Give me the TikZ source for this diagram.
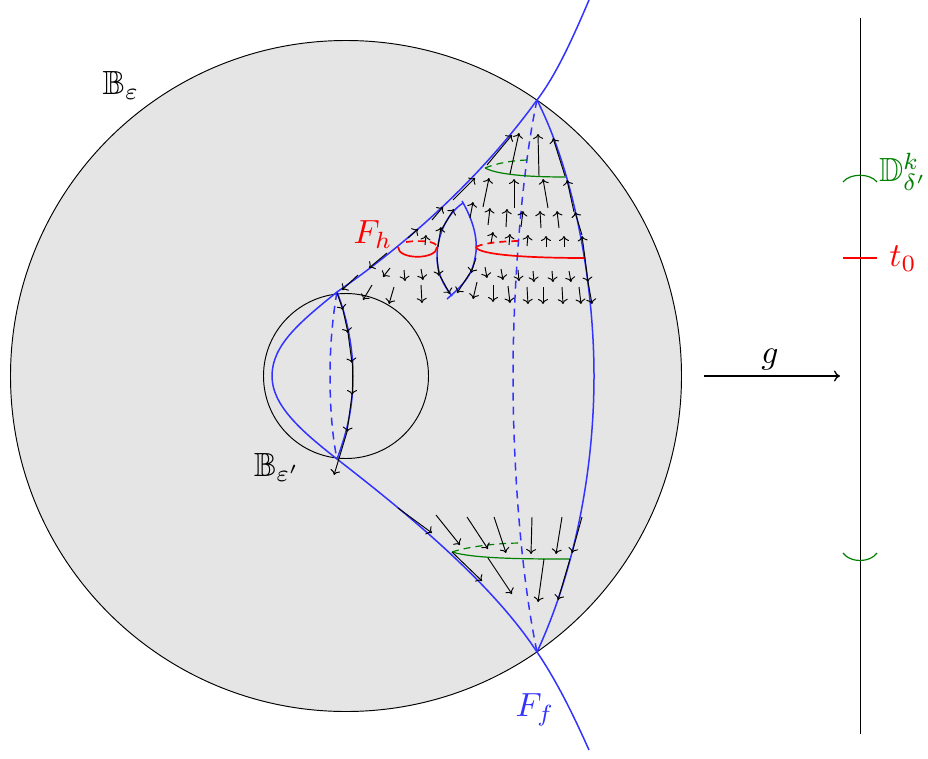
\documentclass[tikz,border=0pt]{standalone}
\usepackage{amsmath,amssymb}
\usetikzlibrary{arrows.meta}
\definecolor{ffblue}{rgb}{0.2,0.2,1}
\definecolor{dkgreen}{rgb}{0,0.5,0}
\tikzset{
  vec/.style={black,line width=0.95pt,-{Computer Modern Rightarrow[length=5pt,width=10pt]}},
  ffline/.style={ffblue,line width=1.5pt},
  ffdash/.style={ffline,dash pattern=on 8pt off 6pt},
  grn/.style={dkgreen,line width=1.2pt},
  grndash/.style={grn,dash pattern=on 7pt off 5pt},
  rd/.style={red,line width=1.7pt},
  rddash/.style={rd,dash pattern=on 7pt off 5pt},
  lab/.style={scale=3.35,inner sep=0pt},
  thin black/.style={black,line width=0.95pt}
}
\begin{document}
\begin{tikzpicture}[x=1pt,y=-1pt]
\useasboundingbox (0,0) rectangle (928,758);
% balls
\coordinate (c) at (346,376);
\fill[black!10] (c) circle[radius=335.5];
\draw[thin black] (c) circle[radius=335.5];
\draw[thin black] (c) circle[radius=82.5];
% fibres
\coordinate (tu) at (537,100);
\coordinate (td) at (537,652);
\coordinate (su) at (337,292);
\coordinate (sd) at (337,459);
\draw[ffline] (589,0) .. controls (572,40) and (556,75) .. (tu) .. controls (485,172) and (415,238) .. (su) .. controls (300,322) and (272,345) .. (272,376) .. controls (272,405) and (300,430) .. (sd) .. controls (400,508) and (490,580) .. (td) .. controls (556,680) and (572,712) .. (589,750);
\draw[ffline] (tu) .. controls (575,175) and (594,285) .. (594,376) .. controls (594,470) and (575,570) .. (td);
\draw[ffdash] (tu) .. controls (520,180) and (513,300) .. (513,376) .. controls (513,460) and (520,570) .. (td);
\draw[ffline] (su) .. controls (348,320) and (353,350) .. (353,376) .. controls (353,405) and (348,430) .. (sd);
\draw[ffdash] (su) .. controls (332,320) and (330,350) .. (330,376) .. controls (330,405) and (332,435) .. (sd);
% lens
\draw[ffline] (462,201) .. controls (473,220) and (479,240) .. (475,258) .. controls (472,276) and (462,286) .. (447,299);
\draw[ffline] (463,203) .. controls (445,215) and (437,238) .. (437,257) .. controls (437,272) and (443,285) .. (452,296);
% green discs
\draw[grn] (485,168) .. controls (500,176) and (540,177) .. (566,177);
\draw[grndash] (485,168) .. controls (497,163) and (515,160) .. (530,160);
\draw[grn] (452,552) .. controls (475,559) and (530,559) .. (570,559);
\draw[grndash] (452,552) .. controls (470,546) and (500,543) .. (522,543);
% red discs
\draw[rd] (398,247) .. controls (398,260) and (437,260) .. (437,247);
\draw[rddash] (406,242) .. controls (420,240) and (437,241) .. (437,247);
\draw[rd] (476,247) .. controls (478,255) and (530,258) .. (585,258);
\draw[rddash] (476,247) .. controls (482,243) and (505,241) .. (520,241);
% vectors
\foreach \a/\b/\c/\d in {
487/165/512/135, 453/200/475/178, 432/220/443/207, 408/238/418/229,
387/253/369/268, 358/275/342/290,
510/174/519/133, 539/176/538/134, 565/176/553/138,
483/207/489/178, 514/208/514/179, 548/208/543/179, 574/212/567/180,
470/218/473/202, 488/225/490/208, 506/227/507/209, 521/227/523/211, 541/228/540/211, 559/228/557/211,
582/235/575/212, 440/232/454/209, 438/247/441/227, 425/245/426/235,
491/243/493/232, 509/245/510/234, 527/246/528/235, 546/247/546/236, 564/247/564/236, 585/258/582/236,
390/268/383/277, 404/270/405/281, 421/269/423/280, 437/257/439/276, 476/258/471/273,
485/267/487/278, 501/269/503/280, 518/270/519/281, 533/271/534/282, 552/271/553/282, 569/271/571/282, 585/258/588/282,
372/285/363/300, 394/287/389/304, 421/285/422/303, 440/276/450/294, 477/282/473/299, 470/273/457/293,
493/285/493/302, 508/286/510/303, 527/287/528/304, 543/287/543/304, 562/287/563/304, 579/287/581/304, 588/282/592/304,
337/293/343/310, 343/310/348/333, 348/333/352/363, 352/363/352/395, 352/395/347/432, 347/432/334/475,
398/508/432/533, 452/552/482/581,
436/515/460/545, 467/517/488/549, 494/517/506/553, 532/517/531/554, 562/517/556/554, 582/517/572/553,
488/558/512/594, 544/559/538/602, 570/559/558/600}
  \draw[vec] (\a,\b) -- (\c,\d);
% labels
\node[lab] (Be) at (121,85) {$\mathbb{B}_{\varepsilon}$};
\node[lab] (Bep) at (277,467) {$\mathbb{B}_{\varepsilon'}$};
\node[lab,red] (Fh) at (373,235) {$F_h$};
\node[lab,ffblue] (Ff) at (535,710) {$F_f$};
% right side
\coordinate (lt) at (860,18);
\coordinate (lb) at (860,734);
\draw[thin black] (lt) -- (lb);
\draw[grn] (843,182) .. controls (850,173) and (870,173) .. (877,182);
\draw[grn] (843,553) .. controls (850,563) and (870,563) .. (877,553);
\draw[red,line width=1.1pt] (843,258) -- (877,258);
\node[lab,dkgreen] (D) at (903,172) {$\mathbb{D}^k_{\delta'}$};
\node[lab,red] (t0) at (903,259) {$t_0$};
% map
\coordinate (ga) at (704,376);
\coordinate (gb) at (840,376);
\draw[black,line width=1.3pt,-{Computer Modern Rightarrow[length=6pt,width=11pt]}] (ga) -- (gb);
\node[lab] (g) at (770,360) {$g$};
\end{tikzpicture}
\end{document}
